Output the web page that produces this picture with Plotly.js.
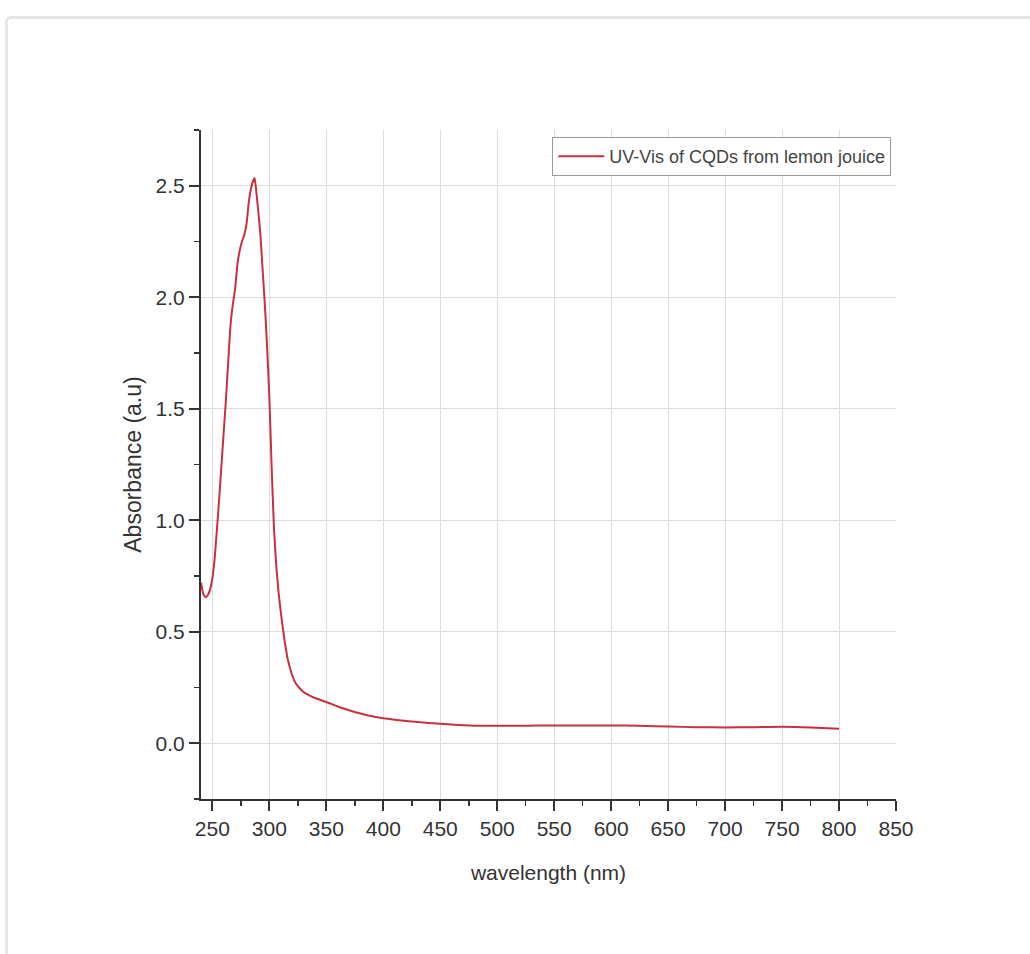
<!DOCTYPE html>
<html>
<head>
<meta charset="utf-8">
<script src="https://cdn.plot.ly/plotly-3.0.1.min.js"></script>
<style>
  html, body { margin: 0; padding: 0; background: #ffffff; }
  #wrap { position: relative; width: 1030px; height: 954px; overflow: hidden; }
  #chart { width: 1030px; height: 954px; }
  #frame { position: absolute; left: 5px; top: 16px; width: 1040px; height: 1000px;
           border: 3px solid #e6e6e6; border-radius: 6px; pointer-events: none; box-sizing: border-box; }
</style>
</head>
<body>
<div id="wrap">
  <div id="chart"></div>
  <div id="frame"></div>
</div>
<script>
// Wavelength (nm)
const wavelength = [240, 242, 244, 246, 248, 250, 252, 254, 256, 258, 260, 262, 264, 266, 268, 270,
  272, 274, 276, 278, 280, 282, 284, 286, 287, 288, 290, 292, 294, 296, 298, 300, 302, 304, 306,
  308, 310, 312, 314, 316, 318, 320, 323, 326, 330, 335, 340, 350, 360, 370, 380, 390, 400, 420,
  440, 460, 480, 500, 525, 550, 575, 600, 625, 650, 675, 700, 725, 750, 775, 800];
// Absorbance (a.u)
const absorbance = [0.72, 0.67, 0.655, 0.665, 0.69, 0.74, 0.83, 0.96, 1.10, 1.25, 1.40, 1.55, 1.72, 1.88,
  1.97, 2.04, 2.15, 2.21, 2.25, 2.28, 2.33, 2.43, 2.49, 2.525, 2.535, 2.50, 2.40, 2.29, 2.13, 1.97,
  1.78, 1.55, 1.24, 0.97, 0.80, 0.68, 0.59, 0.51, 0.44, 0.38, 0.34, 0.305, 0.27, 0.25, 0.23, 0.215,
  0.203, 0.185, 0.165, 0.148, 0.133, 0.121, 0.112, 0.100, 0.091, 0.084, 0.079, 0.078, 0.079, 0.080,
  0.080, 0.080, 0.078, 0.075, 0.072, 0.071, 0.072, 0.074, 0.071, 0.065];

const seriesName = 'UV-Vis of CQDs from lemon jouice';
const xTicks = [250, 300, 350, 400, 450, 500, 550, 600, 650, 700, 750, 800, 850];
const yTicks = [0.0, 0.5, 1.0, 1.5, 2.0, 2.5];
const yTickText = ['0.0', '0.5', '1.0', '1.5', '2.0', '2.5'];

const trace = {
  x: wavelength,
  y: absorbance,
  type: 'scatter',
  mode: 'lines',
  name: seriesName,
  line: { color: '#c8303f', width: 2, shape: 'spline', smoothing: 0.5 }
};

const fontFam = '"Liberation Sans", Arial, sans-serif';

const layout = {
  width: 1030,
  height: 954,
  margin: { l: 201, r: 134, t: 130, b: 155 },
  paper_bgcolor: 'rgba(0,0,0,0)',
  plot_bgcolor: '#ffffff',
  font: { family: fontFam, color: '#333333' },
  showlegend: true,
  legend: {
    x: 0.5055, y: 0.9895, xanchor: 'left', yanchor: 'top',
    bgcolor: '#ffffff', bordercolor: '#9a9a9a', borderwidth: 1,
    font: { family: fontFam, size: 18, color: '#444444' },
    itemwidth: 46
  },
  xaxis: {
    range: [240, 850],
    tickmode: 'array',
    tickvals: xTicks,
    ticktext: xTicks.map(String),
    ticks: 'outside', ticklen: 10, tickwidth: 2, tickcolor: '#333333',
    minor: { dtick: 25, tick0: 250, ticks: 'outside', ticklen: 5, tickwidth: 1.5, tickcolor: '#333333', showgrid: false },
    showline: true, linecolor: '#333333', linewidth: 2,
    showgrid: true, gridcolor: '#dcdcdc', gridwidth: 1,
    zeroline: false,
    tickfont: { family: fontFam, size: 21, color: '#333333' },
    title: { text: 'wavelength (nm)', standoff: 26, font: { family: fontFam, size: 21, color: '#333333' } }
  },
  yaxis: {
    range: [-0.25, 2.75],
    tickmode: 'array',
    tickvals: yTicks,
    ticktext: yTickText,
    ticks: 'outside', ticklen: 10, tickwidth: 2, tickcolor: '#333333',
    minor: { dtick: 0.25, tick0: 0, ticks: 'outside', ticklen: 5, tickwidth: 1.5, tickcolor: '#333333', showgrid: false },
    showline: true, linecolor: '#333333', linewidth: 2,
    showgrid: true, gridcolor: '#dcdcdc', gridwidth: 1,
    zeroline: false,
    tickfont: { family: fontFam, size: 21, color: '#333333' },
    title: { text: 'Absorbance (a.u)', standoff: 8, font: { family: fontFam, size: 23, color: '#333333' } }
  }
};

Plotly.newPlot('chart', [trace], layout, { displayModeBar: false, staticPlot: true });
</script>
</body>
</html>
